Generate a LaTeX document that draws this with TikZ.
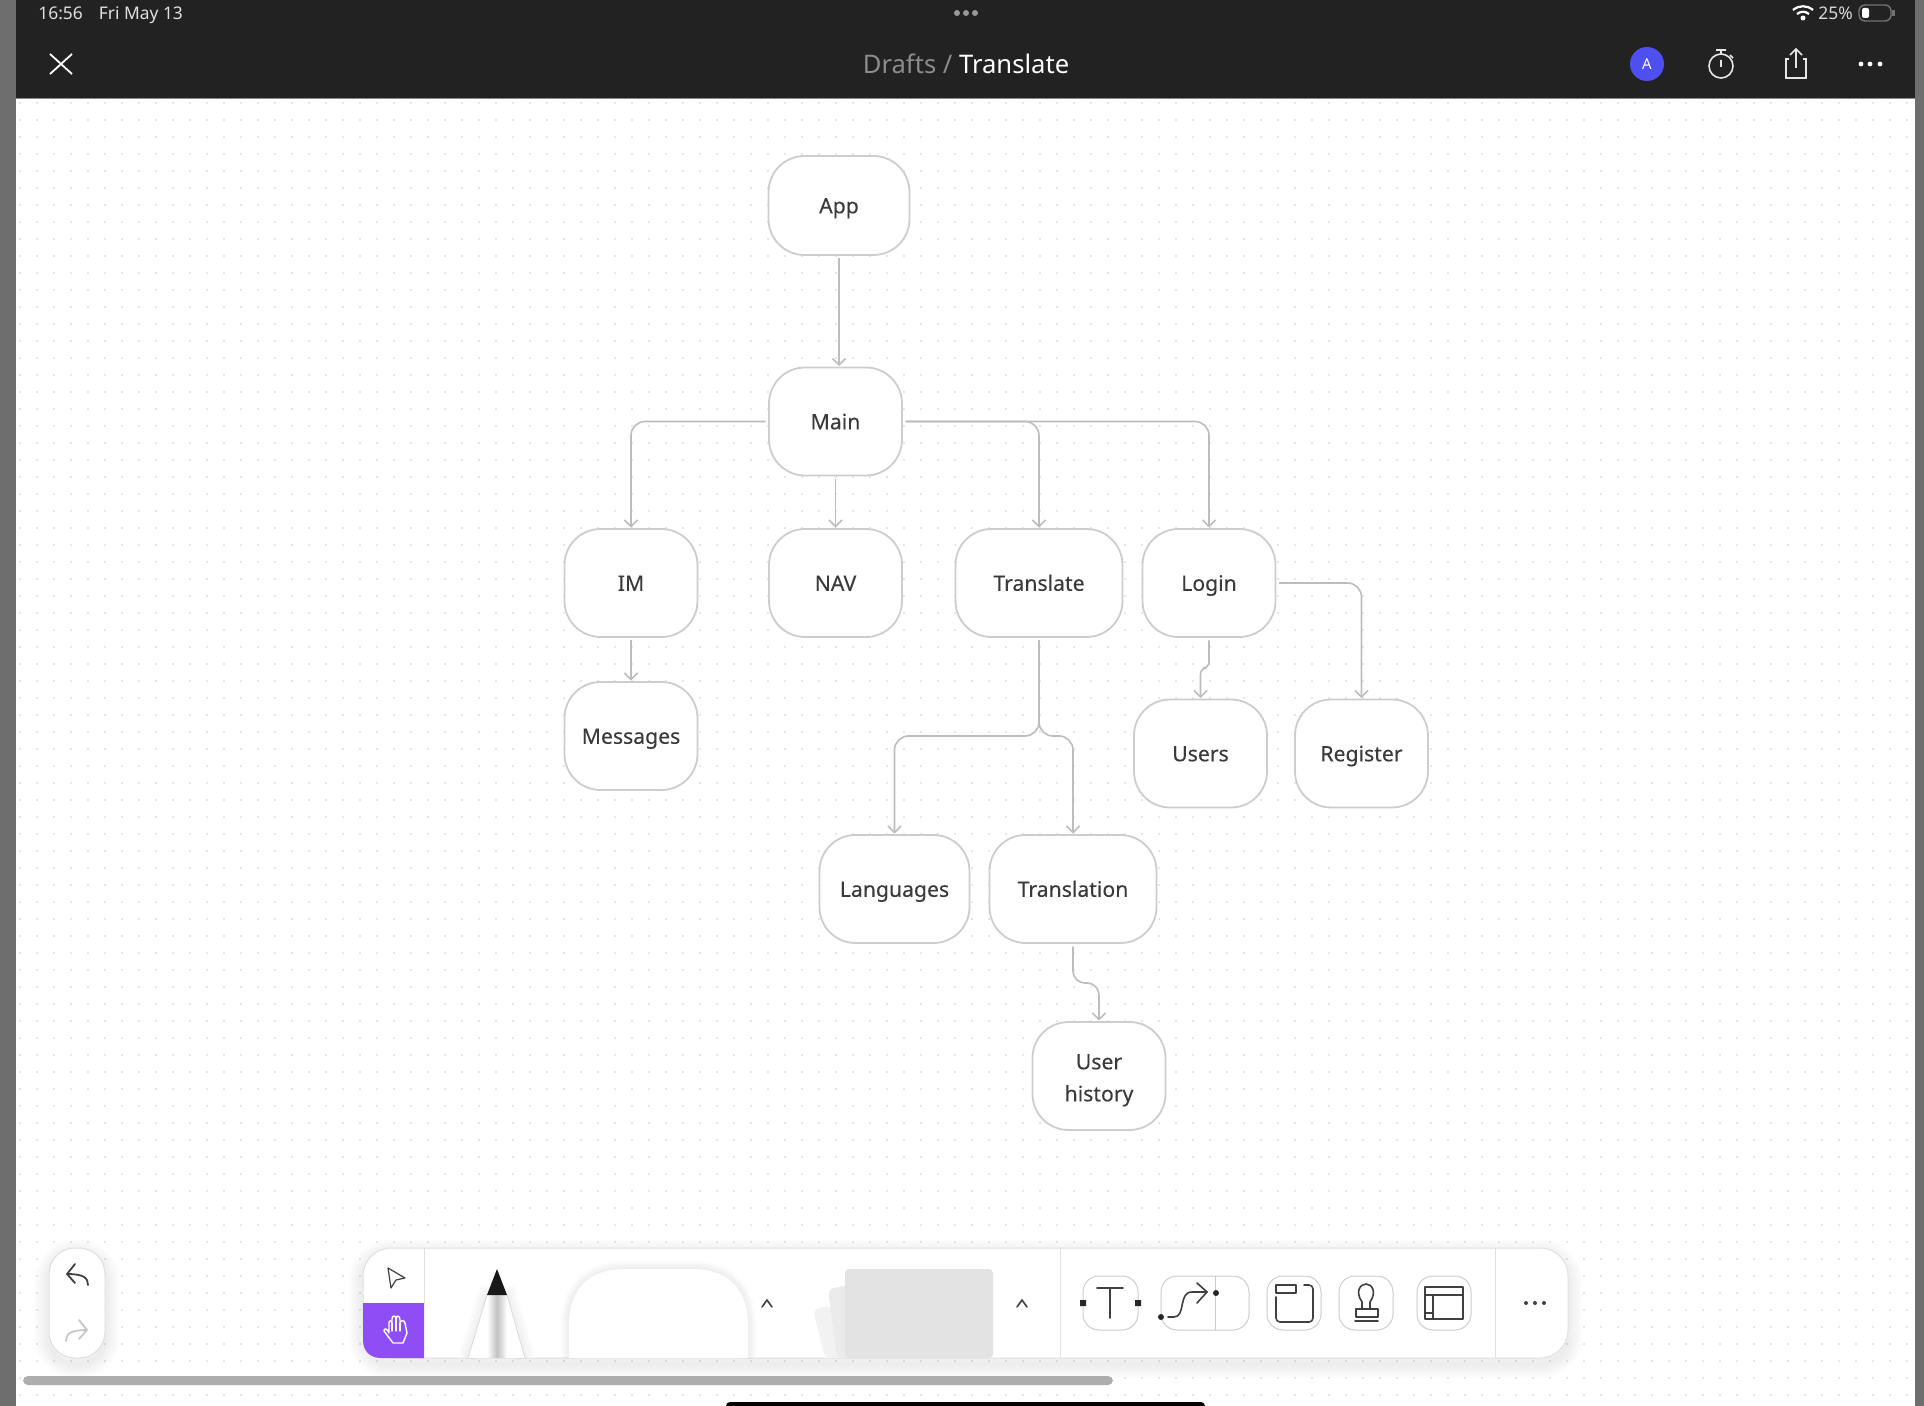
\documentclass[tikz,border=0pt]{standalone}
\usepackage{fontspec}
\setmainfont{Noto Sans}
\newfontfamily\labelfont[FakeBold=0.12]{Noto Sans}
\usetikzlibrary{arrows.meta}
\definecolor{barbg}{HTML}{222222}
\definecolor{strip}{HTML}{6E6E6E}
\definecolor{edge}{HTML}{CDCDCD}
\definecolor{link}{HTML}{BDBDBD}
\definecolor{ink}{HTML}{3A3A3A}
\definecolor{griddot}{HTML}{E6E6E6}
\definecolor{purple}{HTML}{8F4DF5}
\definecolor{avatar}{HTML}{4F4FF0}
\definecolor{icon}{HTML}{404040}
\newcommand{\lblstrut}{\rule[-2.6pt]{0pt}{13pt}}
\tikzset{
  box/.style={draw=edge,fill=white,line width=0.9pt,rounded corners=18pt,inner sep=0pt,align=center,
    text=ink,font=\labelfont\fontsize{10.6}{13}\selectfont,execute at begin node=\lblstrut},
  conn/.style={draw=link,line width=0.8pt,rounded corners=7pt,shorten <=1.3pt,shorten >=0.3pt,
    -{Straight Barb[length=3.2pt,width=6.5pt]}},
  tbtext/.style={inner sep=0pt,text=white},
  ticon/.style={draw=icon,line width=0.8pt,line cap=round,line join=round},
  tool/.style={draw=edge,fill=white,line width=0.5pt,rounded corners=8pt},
  dotgrid/.style={draw=griddot,line width=0.9pt,dash pattern=on 0.9pt off 7.6pt},
  divider/.style={draw=black!12,line width=0.5pt},
}
\newcommand{\softshadow}[5]{%
  \foreach \w in {1,...,6}{
    \draw[black,opacity=0.011,line width=\w*2.4pt,rounded corners=#5] (#1,#2+6) rectangle (#3,#4+6);
  }}
\begin{document}
\begin{tikzpicture}[x=0.5pt,y=-0.5pt]
\useasboundingbox (0,0) rectangle (1924,1406);
\fill[white] (0,0) rectangle (1924,1406);
% dot grid
\foreach \y in {103,120,...,1400}{\draw[dotgrid] (19,\y) -- (1914,\y);}
% side strips and top bar
\fill[strip] (0,0) rectangle (16,1406);
\fill[strip] (1915,0) rectangle (1924,1406);
\fill[barbg] (16,0) rectangle (1915,98);
\fill[black!45] (16,98) rectangle (1915,99);
% status bar
\node[tbtext,anchor=west,font=\fontsize{8.7}{10}\selectfont,text=white!88!black] (clock) at (38,15) {16:56\hspace{8pt}Fri May 13};
\fill[white!60!black] (957,13) circle[radius=3] (966,13) circle[radius=3] (975,13) circle[radius=3];
\draw[white,line width=1.1pt] (1793,10) .. controls (1799,5) and (1807,5) .. (1813,10);
\draw[white,line width=1.1pt] (1797,14) .. controls (1801,11) and (1805,11) .. (1809,14);
\fill[white] (1803,18) circle[radius=2.5];
\node[tbtext,anchor=west,font=\fontsize{8.7}{10}\selectfont,text=white!85!black] (battery) at (1818,13) {25\%};
\draw[white!45!black,line width=0.7pt,rounded corners=3pt] (1859,5) rectangle (1891,21);
\fill[white,rounded corners=1pt] (1862,8) rectangle (1869,18);
\fill[white!45!black] (1892,10) rectangle (1895,16);
% title bar
\draw[white,line width=0.9pt] (50,54) -- (72,74) (72,54) -- (50,74);
\node[tbtext,font=\fontsize{12.8}{15}\selectfont] (title) at (966,64) {\textcolor{white!55!black}{Drafts /} Translate};
\fill[avatar] (1647,64) circle[radius=17];
\node[tbtext,font=\fontsize{7.5}{9}\selectfont] (avatarA) at (1647,64) {A};
\draw[white!90!black,line width=0.8pt] (1721,66) circle[radius=12];
\draw[white!90!black,line width=0.8pt] (1716,50) -- (1726,50) (1721,50) -- (1721,54) (1721,60) -- (1721,67) (1730,55) -- (1733,58);
\draw[white!90!black,line width=0.8pt] (1789,59) -- (1786,59) -- (1786,78) -- (1806,78) -- (1806,59) -- (1803,59);
\draw[white!90!black,line width=0.8pt] (1796,68) -- (1796,50) (1790,55) -- (1796,49) -- (1802,55);
\fill[white] (1861,64) circle[radius=2.4] (1870,64) circle[radius=2.4] (1880,64) circle[radius=2.4];
% diagram nodes
\node[box,minimum width=70.5pt,minimum height=49.5pt] (app) at (839,205.5) {App};
\node[box,minimum width=66.5pt,minimum height=54pt] (main) at (835.5,421.5) {Main};
\node[box,minimum width=66.5pt,minimum height=54pt] (im) at (631,583) {IM};
\node[box,minimum width=66.5pt,minimum height=54pt] (nav) at (835.5,583) {NAV};
\node[box,minimum width=83.5pt,minimum height=54pt] (translate) at (1039,583) {Translate};
\node[box,minimum width=66.5pt,minimum height=54pt] (login) at (1209,583) {Login};
\node[box,minimum width=66.5pt,minimum height=54pt] (messages) at (631,736) {Messages};
\node[box,minimum width=66.5pt,minimum height=54pt] (users) at (1200.5,753.5) {Users};
\node[box,minimum width=66.5pt,minimum height=54pt] (register) at (1361.5,753.5) {Register};
\node[box,minimum width=75pt,minimum height=54pt] (languages) at (894.5,889) {Languages};
\node[box,minimum width=83.5pt,minimum height=54pt] (translation) at (1073,889) {Translation};
\node[box,minimum width=66.5pt,minimum height=54pt] (history) at (1099,1076) {\rule{0pt}{11.9pt}User\\[3pt]\lblstrut history};
% junctions
\coordinate (jT) at (1039,736);
\coordinate (jU) at (1200.5,668);
\coordinate (jH) at (1099,983);
% connectors
\draw[conn] (app.south) -- (app.south |- main.north);
\draw[conn] (main.west) -| (im.north);
\draw[conn] (main.south) -- (nav.north);
\draw[conn] (main.east) -| (translate.north);
\draw[conn] (main.east) -| (login.north);
\draw[conn] (im.south) -- (messages.north);
\draw[conn] (translate.south) -- (jT) -| (languages.north);
\draw[conn] (translate.south) -- (jT) -| (translation.north);
\draw[conn,rounded corners=3pt] (login.south) |- (jU) -- (users.north);
\draw[conn] (login.east) -| (register.north);
\draw[conn,rounded corners=6pt] (translation.south) |- (jH) -- (history.north);
% undo pill
\softshadow{49}{1248}{105}{1358}{13pt}
\filldraw[draw=black!12,fill=white,line width=0.5pt,rounded corners=13pt] (49,1248) rectangle (105,1358);
\draw[ticon,line width=0.9pt] (88,1285) .. controls (88,1278) and (84,1274) .. (67,1274);
\draw[ticon,line width=0.9pt] (75,1264) -- (67,1274) -- (75,1283);
\draw[ticon,draw=black!22,line width=0.9pt] (66,1341) .. controls (66,1334) and (70,1330) .. (87,1330);
\draw[ticon,draw=black!22,line width=0.9pt] (79,1320) -- (87,1330) -- (79,1339);
% toolbar
\softshadow{363}{1248}{1568}{1358}{14pt}
\filldraw[draw=black!12,fill=white,line width=0.5pt,rounded corners=14pt] (363,1248) rectangle (1568,1358);
\fill[purple] (363,1303) -- (363,1340) .. controls (363,1351) and (370,1358) .. (381,1358) -- (424,1358) -- (424,1303) -- cycle;
\draw[divider] (424,1248) -- (424,1303) (1060,1248) -- (1060,1358) (1495,1248) -- (1495,1358);
\draw[icon,line width=0.6pt,line join=round] (388,1268) -- (405,1278) -- (396,1280) -- (391,1288) -- cycle;
% hand
\draw[white,line width=0.7pt,line cap=round,line join=round]
  (389,1333) -- (389,1323) .. controls (389,1320) and (392,1320) .. (392,1323) -- (392,1319)
  .. controls (392,1315) and (396,1315) .. (396,1319) .. controls (396,1315) and (400,1315) .. (400,1320)
  -- (400,1323) .. controls (400,1320) and (405,1320) .. (405,1323) -- (407,1333) -- (403,1343) -- (393,1343)
  -- (384,1331) .. controls (384,1328) and (387,1328) .. (389,1333);
\draw[white,line width=0.6pt,line cap=round] (392,1323) -- (392,1331) (396,1319) -- (396,1331) (400,1323) -- (400,1331);
% pencil
\foreach \w in {1,...,5}{\draw[black,opacity=0.012,line width=\w*2pt] (468,1358) -- (487,1295) -- (507,1295) -- (525,1358);}
\begin{scope}
\clip (468,1358) -- (487,1295) -- (507,1295) -- (525,1358) -- cycle;
\fill[white] (468,1290) rectangle (525,1358);
\shade[left color=white,right color=white,middle color=black!24] (487,1290) rectangle (507,1358);
\end{scope}
\draw[black!14,line width=0.4pt] (468,1358) -- (487,1295) (507,1295) -- (525,1358);
\fill[black!90] (497,1269) -- (507,1295) -- (487,1295) -- cycle;
% shape tool
\foreach \w in {1,...,4}{\draw[black,opacity=0.014,line width=\w*2pt] (569,1358) -- (569,1325) .. controls (569,1288) and (590,1269) .. (625,1269) -- (692,1269) .. controls (727,1269) and (748,1288) .. (748,1325) -- (748,1358);}
\fill[white] (569,1358) -- (569,1325) .. controls (569,1288) and (590,1269) .. (625,1269) -- (692,1269) .. controls (727,1269) and (748,1288) .. (748,1325) -- (748,1358) -- cycle;
% stickies
\fill[black!5,rounded corners=3pt] (825,1358) -- (813,1310) -- (830,1305) -- (845,1358) -- cycle;
\fill[black!8,rounded corners=3pt] (837,1358) -- (828,1289) -- (850,1285) -- (850,1358) -- cycle;
\fill[black!11,rounded corners=2pt] (845,1358) -- (845,1269) -- (993,1269) -- (993,1358) -- cycle;
% chevrons
\draw[ticon] (762,1307) -- (767,1300) -- (772,1307);
\draw[ticon] (1017,1307) -- (1022,1300) -- (1027,1307);
\draw[ticon] (1228,1307) -- (1233,1300) -- (1238,1307);
% text tool
\draw[tool] (1083,1276) rectangle (1138,1330);
\draw[ticon] (1097,1288) -- (1123,1288) (1110,1288) -- (1110,1318);
\fill[icon!60!black] (1080,1300) rectangle (1086,1306) (1135,1300) rectangle (1141,1306);
% connector tool
\draw[tool] (1161,1276) rectangle (1249,1330);
\draw[draw=edge,line width=0.5pt] (1215,1276) -- (1215,1330);
\draw[ticon] (1168,1317) -- (1174,1317) .. controls (1186,1317) and (1178,1292) .. (1192,1292) -- (1207,1292);
\draw[ticon] (1197,1283) -- (1207,1292) -- (1197,1303);
\fill[icon!60!black] (1161,1317) circle[radius=3] (1216,1293) circle[radius=3];
% frame tool
\draw[tool] (1267,1276) rectangle (1321,1330);
\draw[ticon,rounded corners=2pt] (1276,1297) -- (1276,1322) -- (1313,1322) -- (1313,1285) -- (1304,1285);
\draw[ticon] (1276,1285) rectangle (1296,1293);
% stamp tool
\draw[tool] (1339,1276) rectangle (1393,1330);
\draw[ticon] (1362,1309) -- (1362,1302) .. controls (1355,1292) and (1360,1284) .. (1366,1284) .. controls (1372,1284) and (1377,1292) .. (1370,1302) -- (1370,1309);
\draw[ticon] (1356,1309) rectangle (1378,1317);
\draw[ticon] (1355,1321) -- (1378,1321);
% layout tool
\draw[tool] (1417,1276) rectangle (1471,1330);
\draw[ticon] (1425,1287) rectangle (1463,1319);
\draw[ticon] (1425,1295) -- (1463,1295) (1433,1295) -- (1433,1319) (1425,1313) -- (1433,1313);
% more
\fill[icon] (1526,1303) circle[radius=2] (1535,1303) circle[radius=2] (1544,1303) circle[radius=2];
% scrollbar and home indicator
\fill[black!32,rounded corners=2.5pt] (23,1376) rectangle (1113,1385);
\fill[black,rounded corners=2pt] (726,1402) rectangle (1205,1410);
\end{tikzpicture}
\end{document}
